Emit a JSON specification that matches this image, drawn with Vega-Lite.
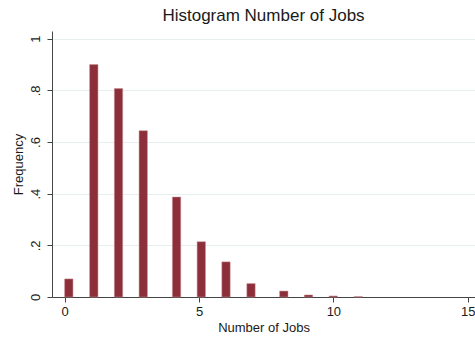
{
  "$schema": "https://vega.github.io/schema/vega-lite/v6.json",
  "autosize": {"type": "none"},
  "width": 423,
  "height": 266,
  "padding": {"left": 52, "top": 31, "right": 0, "bottom": 40},
  "background": "white",
  "title": {
    "text": "Histogram Number of Jobs",
    "font": "Liberation Sans",
    "fontSize": 17,
    "fontWeight": "normal",
    "color": "#1a1a1a",
    "anchor": "middle",
    "offset": 6
  },
  "config": {
    "view": {"stroke": null},
    "axis": {
      "labelFont": "Liberation Sans",
      "titleFont": "Liberation Sans",
      "labelColor": "#1a1a1a",
      "titleColor": "#1a1a1a",
      "titleFontWeight": "normal",
      "domainColor": "#444444",
      "tickColor": "#444444",
      "domainWidth": 1,
      "tickWidth": 1,
      "tickSize": 5
    }
  },
  "data": {
    "values": [
      {"x0": 0.0, "x1": 0.31, "freq": 0.070},
      {"x0": 0.93, "x1": 1.24, "freq": 0.900},
      {"x0": 1.85, "x1": 2.16, "freq": 0.807},
      {"x0": 2.77, "x1": 3.08, "freq": 0.644},
      {"x0": 4.01, "x1": 4.32, "freq": 0.387},
      {"x0": 4.93, "x1": 5.24, "freq": 0.214},
      {"x0": 5.85, "x1": 6.16, "freq": 0.136},
      {"x0": 6.78, "x1": 7.09, "freq": 0.052},
      {"x0": 8.0, "x1": 8.31, "freq": 0.023},
      {"x0": 8.92, "x1": 9.23, "freq": 0.008},
      {"x0": 9.84, "x1": 10.15, "freq": 0.004},
      {"x0": 10.77, "x1": 11.08, "freq": 0.0015}
    ]
  },
  "mark": {"type": "bar", "color": "#8c2f3a", "stroke": "#c98c93", "strokeWidth": 0.5},
  "encoding": {
    "x": {
      "field": "x0",
      "type": "quantitative",
      "scale": {"domain": [-0.47, 15.27], "nice": false, "zero": false},
      "axis": {
        "title": "Number of Jobs",
        "values": [0, 5, 10, 15],
        "grid": false,
        "labelFontSize": 13,
        "titleFontSize": 13,
        "labelPadding": 3,
        "titlePadding": 3
      }
    },
    "x2": {"field": "x1"},
    "y": {
      "field": "freq",
      "type": "quantitative",
      "scale": {"domain": [0, 1.03], "nice": false},
      "axis": {
        "title": "Frequency",
        "values": [0, 0.2, 0.4, 0.6, 0.8, 1],
        "labelExpr": "datum.value == 0 ? '0' : datum.value == 1 ? '1' : replace(format(datum.value, '.1f'), '0.', '.')",
        "labelAngle": -90,
        "labelAlign": "center",
        "labelBaseline": "bottom",
        "labelPadding": 5,
        "labelFontSize": 13,
        "titleFontSize": 13,
        "titlePadding": 4,
        "grid": true,
        "gridColor": "#e6efef",
        "gridWidth": 1
      }
    },
    "y2": {"datum": 0}
  }
}
